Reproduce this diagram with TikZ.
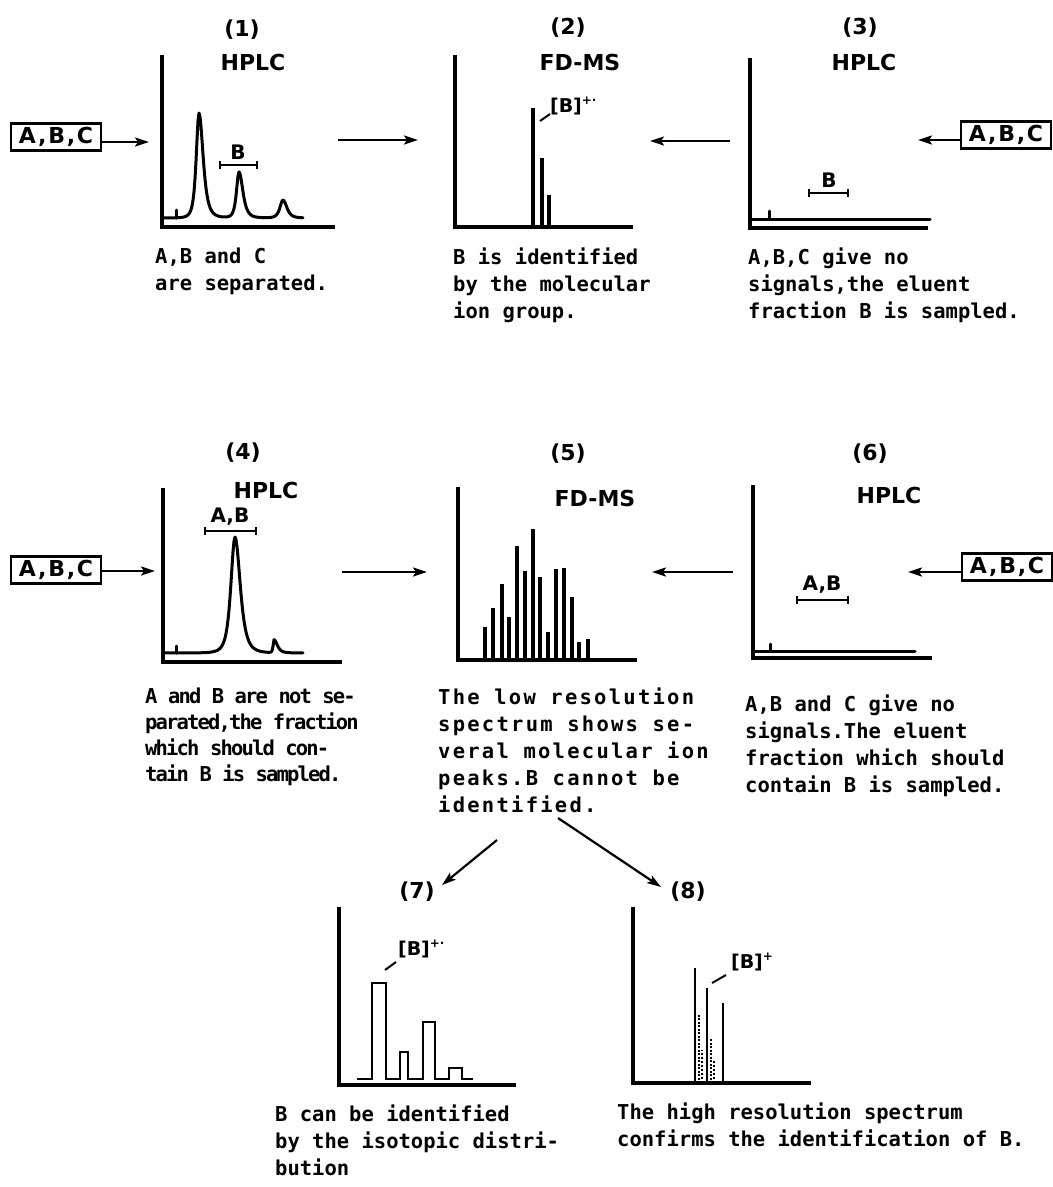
\documentclass[tikz,border=0pt]{standalone}
\usepackage{fontspec}
\setmainfont{DejaVu Sans}
\newfontfamily\capf{DejaVu Sans Mono}
\newfontfamily\capfN{DejaVu Sans Mono}[LetterSpace=-9]
\newfontfamily\capfW{DejaVu Sans Mono}[LetterSpace=11]
\newfontfamily\boxf{DejaVu Sans}[LetterSpace=8]
\usetikzlibrary{arrows.meta}
\begin{document}
\begin{tikzpicture}[x=1pt,y=-1pt,
  declare function={pk(\x,\pc,\ph,\pw,\pv)=\ph/pow(1+min(pow((\x-\pc)/((\x<\pc)?\pw:\pv),2),100),2);},
  axis/.style={line width=3.4pt, line join=miter},
  trace/.style={line width=3pt, line join=round, line cap=round},
  peak/.style={line width=3.2pt},
  flow/.style={line width=2.2pt, -{Stealth[length=14pt,width=9pt,inset=3pt]}},
  rng/.style={line width=2.4pt, {Bar[width=8pt]}-{Bar[width=8pt]}},
  lead/.style={line width=2pt},
  sbox/.style={draw, line width=2.2pt, minimum width=90pt, minimum height=27pt, inner sep=0pt, font=\boxf\bfseries\fontsize{22}{22}\selectfont},
  ttl/.style={inner sep=0pt, font=\bfseries\fontsize{22}{22}\selectfont},
  rlab/.style={inner sep=0pt, font=\bfseries\fontsize{20}{20}\selectfont},
  ion/.style={inner sep=0pt, font=\bfseries\fontsize{19}{19}\selectfont},
  capt/.style={anchor=north west, align=left, inner sep=0pt, font=\capf\bfseries\fontsize{20.5}{27}\selectfont},
  captN/.style={capt, font=\capfN\bfseries\fontsize{20.5}{26}\selectfont},
  captW/.style={capt, font=\capfW\bfseries\fontsize{20.5}{27}\selectfont},
]
\useasboundingbox (0,0) rectangle (1053,1187);

% ---------------- Row 1 ----------------
% panel 1
\node[ttl] (n1) at (242,30) {(1)};
\node[ttl] (h1) at (253,62) {HPLC};
\draw[axis] (162,55) -- (162,227) -- (335,227);
\draw[trace] plot[domain=163:303, samples=141] (\x,{218-pk(\x,199,105,5,7.5)-pk(\x,239,46,4.5,7)-pk(\x,283,18,5.5,7)});
\draw[trace] (176,218) -- (176,210);
\draw[rng] (219,165) -- (258,165);
\node[rlab] (r1) at (238,152) {B};
\node[sbox] (box1) at (56,137) {A,B,C};
\coordinate (p1in) at (149,142);
\draw[flow] (box1.east |- p1in) -- (p1in);
\node[capt] (c1) at (155,247.5) {A,B and C\\are separated.};

% panel 2
\node[ttl] (n2) at (568,28) {(2)};
\node[ttl] (h2) at (580,62) {FD-MS};
\draw[axis] (455,55) -- (455,227) -- (633,227);
\draw[peak] (533,227) -- (533,108);
\draw[peak] (542,227) -- (542,158);
\draw[peak] (549,227) -- (549,195);
\node[ion] (b2) at (566,106) {[B]\rlap{\raisebox{8pt}{\fontsize{12}{12}\selectfont +·}}};
\draw[lead] (540,121) -- (550,114);
\node[capt] (c2) at (453,247.5) {B is identified\\by the molecular\\ion group.};
\coordinate (m12a) at (338,140);
\coordinate (m12b) at (418,140);
\draw[flow] (m12a) -- (m12b);
\coordinate (m32a) at (730,141);
\coordinate (m32b) at (650,141);
\draw[flow] (m32a) -- (m32b);

% panel 3
\node[ttl] (n3) at (860,28) {(3)};
\node[ttl] (h3) at (864,62) {HPLC};
\draw[axis] (750,58) -- (750,228) -- (928,228);
\draw[trace] (750,219) -- (930,219);
\draw[trace] (769,219) -- (769,211);
\draw[rng] (808,193) -- (849,193);
\node[rlab] (r3) at (829,180) {B};
\node[sbox] (box3) at (1006,135) {A,B,C};
\coordinate (p3in) at (918,140);
\draw[flow] (box3.west |- p3in) -- (p3in);
\node[capt] (c3) at (748,247.5) {A,B,C give no\\signals,the eluent\\fraction B is sampled.};

% ---------------- Row 2 ----------------
% panel 4
\node[ttl] (n4) at (243,453) {(4)};
\node[ttl] (h4) at (266,490) {HPLC};
\draw[axis] (163,488) -- (163,662) -- (342,662);
\draw[trace] plot[domain=164:303, samples=140] (\x,{653-pk(\x,235,116,7.5,9.5)-pk(\x,274,13,1.5,6)});
\draw[trace] (176,653) -- (176,646);
\draw[rng] (204,531) -- (257,531);
\node[rlab] (r4) at (230,517) {A,B};
\node[sbox] (box4) at (56,570) {A,B,C};
\coordinate (p4in) at (155,571);
\draw[flow] (box4.east |- p4in) -- (p4in);
\node[captN] (c4) at (145,687.5) {A and B are not se-\\parated,the fraction\\which should con-\\tain B is sampled.};

% panel 5
\node[ttl] (n5) at (568,454) {(5)};
\node[ttl] (h5) at (595,498) {FD-MS};
\draw[axis] (458,487) -- (458,660) -- (637,660);
\foreach \bx/\bt in {485/627, 493/608, 502/584, 509/617, 517/546, 525/571, 533/529, 540/577, 548/632, 556/569, 564/568, 572/597, 579/642, 588/639}
  \draw[peak] (\bx,660) -- (\bx,\bt);
\node[captW] (c5) at (438,687.5) {The low resolution\\spectrum shows se-\\veral molecular ion\\peaks.B cannot be\\identified.};
\coordinate (m45a) at (342,572);
\coordinate (m45b) at (427,572);
\draw[flow] (m45a) -- (m45b);
\coordinate (m65a) at (733,572);
\coordinate (m65b) at (652,572);
\draw[flow] (m65a) -- (m65b);

% panel 6
\node[ttl] (n6) at (870,454) {(6)};
\node[ttl] (h6) at (889,495) {HPLC};
\draw[axis] (753,485) -- (753,658) -- (932,658);
\draw[trace] (753,651) -- (915,651);
\draw[trace] (770,651) -- (770,644);
\draw[rng] (796,600) -- (849,600);
\node[rlab] (r6) at (822,585) {A,B};
\node[sbox] (box6) at (1007,567) {A,B,C};
\coordinate (p6in) at (908,572);
\draw[flow] (box6.west |- p6in) -- (p6in);
\node[capt] (c6) at (745,694.5) {A,B and C give no\\signals.The eluent\\fraction which should\\contain B is sampled.};

% ---------------- Row 3 ----------------
\coordinate (m57a) at (497,840);
\coordinate (m57b) at (442,885);
\draw[flow] (m57a) -- (m57b);
\coordinate (m58a) at (558,818);
\coordinate (m58b) at (661,887);
\draw[flow] (m58a) -- (m58b);

% panel 7
\node[ttl] (n7) at (417,892) {(7)};
\draw[axis] (339,907) -- (339,1085) -- (516,1085);
\draw[trace, line width=2.6pt, line cap=butt, line join=miter] (357,1079) -| (372,983) -| (386,1079) -| (400,1052) -| (408,1079) -| (423,1022) -| (435,1079) -| (449,1068) -| (462,1079) -- (473,1079);
\node[ion] (b7) at (414,949) {[B]\rlap{\raisebox{8pt}{\fontsize{12}{12}\selectfont +·}}};
\draw[lead] (385,970) -- (396,962);
\node[capt] (c7) at (275,1104.5) {B can be identified\\by the isotopic distri-\\bution};

% panel 8
\node[ttl] (n8) at (688,892) {(8)};
\draw[axis] (633,907) -- (633,1083) -- (811,1083);
\draw[peak, line width=2.6pt] (695,1083) -- (695,968);
\draw[peak, line width=2.6pt] (707,1083) -- (707,988);
\draw[peak, line width=2.6pt] (723,1083) -- (723,1003);
\draw[line width=2.8pt, dash pattern=on 2pt off 1.5pt] (699,1083) -- (699,1013);
\draw[line width=1.8pt, dash pattern=on 2pt off 2pt] (702,1083) -- (702,1050);
\draw[line width=2.4pt, dash pattern=on 2pt off 1.5pt] (711,1083) -- (711,1039);
\draw[line width=1.8pt, dash pattern=on 2pt off 2pt] (714,1083) -- (714,1060);
\node[ion] (b8) at (747,962) {[B]\rlap{\raisebox{8pt}{\fontsize{12}{12}\selectfont +}}};
\draw[lead] (712,983) -- (726,975);
\node[capt] (c8) at (617,1102.5) {The high resolution spectrum\\confirms the identification of B.};
\end{tikzpicture}
\end{document}
